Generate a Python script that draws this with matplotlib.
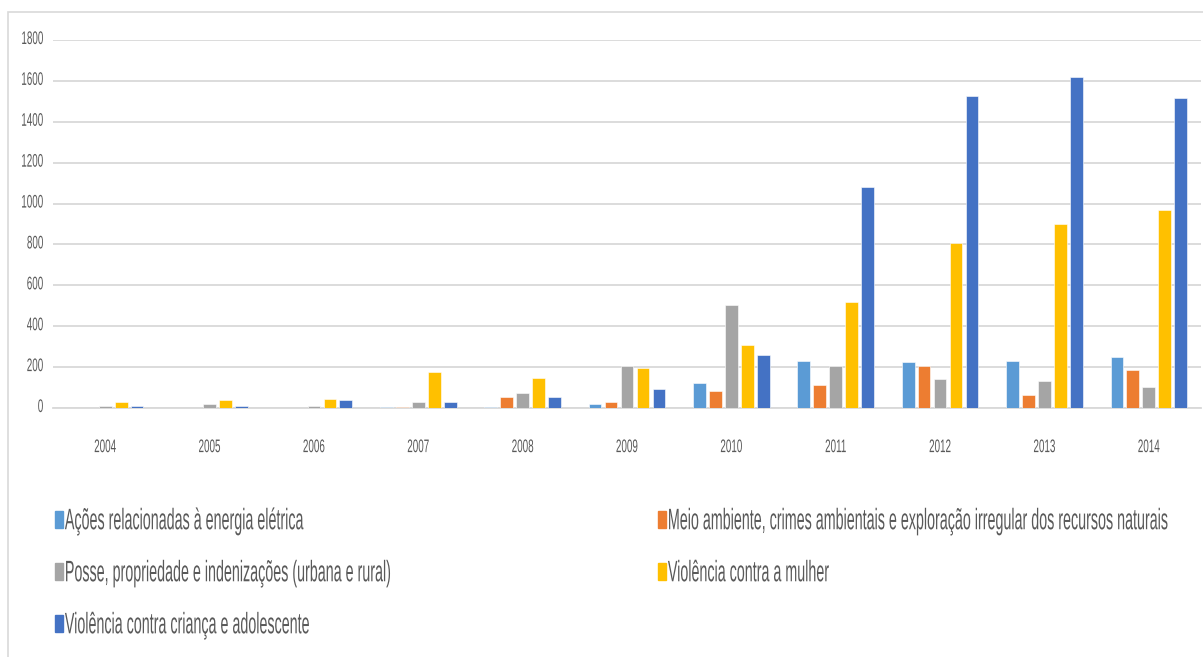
import matplotlib
matplotlib.use('Agg')
import matplotlib.pyplot as plt
import matplotlib.patheffects as patheffects
from matplotlib.transforms import Affine2D
from matplotlib.patches import Rectangle, Patch
from matplotlib import font_manager
import numpy as np

years = ['2004', '2005', '2006', '2007', '2008', '2009', '2010', '2011', '2012', '2013', '2014']
series_names = ['Ações relacionadas à energia elétrica',
                'Meio ambiente, crimes ambientais e exploração irregular dos recursos naturais',
                'Posse, propriedade e indenizações (urbana e rural)',
                'Violência contra a mulher',
                'Violência contra criança e adolescente']
energia = [2, 2, 2, 3, 3, 18, 121, 231, 224, 231, 251]
meio_ambiente = [2, 2, 2, 3, 55, 28, 83, 113, 206, 65, 186]
posse = [10, 20, 10, 28, 73, 206, 503, 206, 140, 131, 103]
mulher = [28, 38, 46, 176, 148, 196, 308, 520, 809, 902, 968]
crianca = [10, 10, 38, 28, 55, 93, 259, 1080, 1527, 1620, 1517]
colors = ['#5B9BD5', '#ED7D31', '#A5A5A5', '#FFC000', '#4472C4']

# narrow font if there is one, otherwise shrink regular Liberation Sans
names = {f.name for f in font_manager.fontManager.ttflist}
if 'Liberation Sans Narrow' in names:
    family, k = 'Liberation Sans Narrow', 0.82
else:
    family, k = 'Liberation Sans', 1.0
plt.rcParams['font.family'] = [family, 'DejaVu Sans']


class Stretch(patheffects.AbstractPathEffect):
    """Draw text taller than wide, stretched up from its baseline (dy shifts it, in px)."""
    def __init__(self, sy, dy=0):
        super().__init__()
        self.sy = sy
        self.dy = dy

    def draw_path(self, renderer, gc, tpath, affine, rgbFace=None):
        x, y = affine.get_matrix()[:2, 2]
        t = affine + Affine2D().translate(-x, -y).scale(1, self.sy).translate(x, y + self.dy)
        renderer.draw_path(gc, tpath, t, rgbFace)


txt = '#595959'
tick_fs = 7.1 / k
leg_fs = 10.3 / k
sy = 1.85 * k

fig = plt.figure(figsize=(12.03, 6.57), dpi=100)
ax = fig.add_axes([53 / 1203, 1 - 408 / 657, 1148 / 1203, 368 / 657])

data = [energia, meio_ambiente, posse, mulher, crianca]
x = np.arange(len(years))
step, width = 0.153, 0.122
for i, vals in enumerate(data):
    ax.bar(x + (i - 2) * step, vals, width, color=colors[i], edgecolor='white',
           linewidth=0.4, zorder=3, label=series_names[i])

ax.set_xlim(-0.5, 10.5)
ax.set_ylim(0, 1800)
ax.set_yticks(range(0, 1801, 200))
ax.set_xticks(x, years)
ax.grid(axis='y', color='#d9d9d9', linewidth=1.3, zorder=0)
for s in ['top', 'right', 'left']:
    ax.spines[s].set_visible(False)
ax.spines['bottom'].set_color('#d9d9d9')
ax.spines['bottom'].set_linewidth(1.3)
ax.tick_params(axis='both', length=0, labelsize=tick_fs, labelcolor=txt)
ax.tick_params(axis='y', pad=7)
ax.tick_params(axis='x', pad=26)
for lab in ax.get_xticklabels() + ax.get_yticklabels():
    lab.set_path_effects([Stretch(sy)])

# legend in two columns, filled row by row
handles = [Patch(color=c) for c in colors]
leg_kw = dict(frameon=False, fontsize=leg_fs, labelcolor=txt, handlelength=0.57 * k,
              handleheight=1.45 * k, handletextpad=0.12, labelspacing=2.45,
              borderpad=0, borderaxespad=0, loc='upper left')
leg1 = fig.legend([handles[0], handles[2], handles[4]],
                  [series_names[0], series_names[2], series_names[4]],
                  bbox_to_anchor=(55 / 1203, 1 - 511 / 657), **leg_kw)
leg2 = fig.legend([handles[1], handles[3]], [series_names[1], series_names[3]],
                  bbox_to_anchor=(658 / 1203, 1 - 511 / 657), **leg_kw)
for leg in (leg1, leg2):
    for t in leg.get_texts():
        t.set_path_effects([Stretch(sy * 1.12, dy=-5)])

# chart area border
fig.patches.append(Rectangle((8 / 1203, -0.1), 1.1, 1.1 - 12 / 657, transform=fig.transFigure,
                             fill=False, edgecolor='#d9d9d9', linewidth=1.2, zorder=0))

fig.savefig('out.png', dpi=100)
